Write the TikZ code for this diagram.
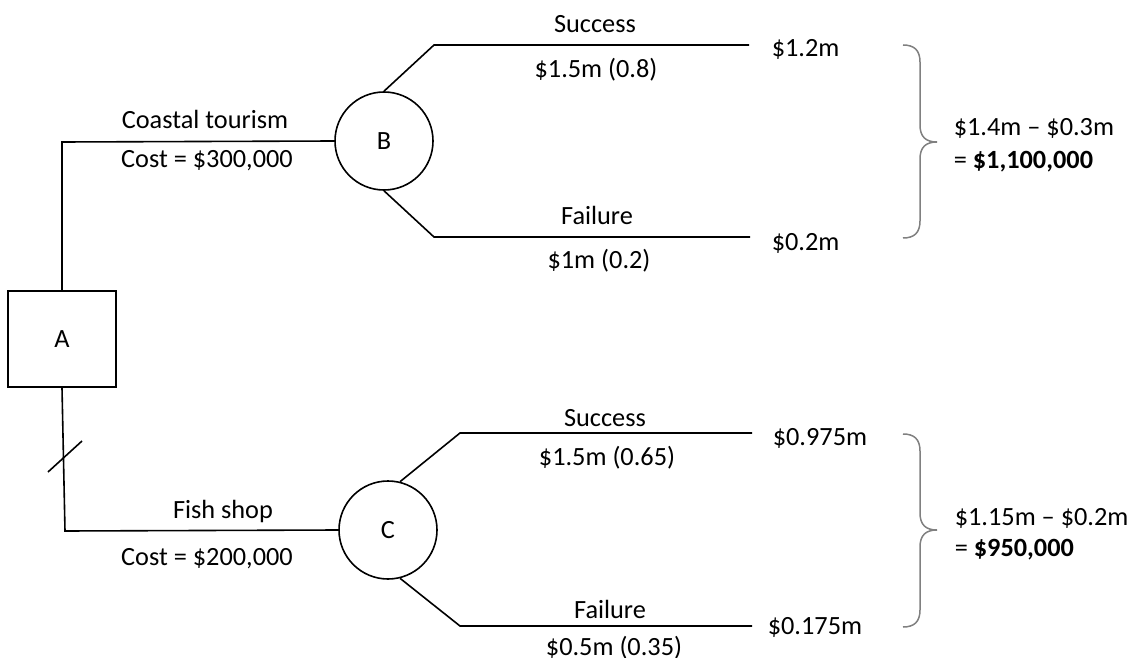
\documentclass[tikz,border=0pt]{standalone}
\usepackage{fontspec}
\setmainfont{Carlito}
\usepackage{tikz}

\begin{document}
\begin{tikzpicture}[
            x = 0.5pt, y = -0.5pt, % one unit = one pixel of the sketch
            line width = 0.8pt, % line style
            font = \fontsize{13.15}{16}\selectfont
        ]

        \tikzstyle{decision}=[
            draw = black,
            rectangle,
            minimum width = 54pt,
            minimum height = 48pt
        ]
        \tikzstyle{chance}=[
            draw = black,
            circle,
            minimum size = 49pt
        ]
        \tikzstyle{txt}=[inner sep = 0pt, anchor = base]
        \tikzstyle{payoff}=[inner sep = 0pt, anchor = base west]
        \tikzstyle{bracket}=[draw = gray, line width = 0.75pt]

        \useasboundingbox (0, 0) rectangle (1136, 658);

        \node[decision] (A) at (62, 339) {A};
        \node[chance] (B) at (384, 141) {B};
        \node[chance] (C) at (388, 530) {C};

        % corners and branch ends
        \coordinate (Atop) at (62, 142);
        \coordinate (Abot) at (65, 531);
        \coordinate (Bs) at (434, 45);
        \coordinate (Bse) at (749, 45);
        \coordinate (Bf) at (434, 237);
        \coordinate (Bfe) at (750, 237);
        \coordinate (Cs) at (460, 433);
        \coordinate (Cse) at (752, 433);
        \coordinate (Cf) at (460, 626);
        \coordinate (Cfe) at (752, 626);

        \draw (A.north) -- (Atop) -- (B.west);
        \draw (A.south) -- (Abot) -- (C.west);
        \draw (B.north) -- (Bs) -- (Bse);
        \draw (B.south) -- (Bf) -- (Bfe);
        \draw (C.76) -- (Cs) -- (Cse);
        \draw (C.-76) -- (Cf) -- (Cfe);

        % option not taken
        \draw (48, 472) -- (82, 441);

        \node[txt] (tour) at (205, 129) {Coastal tourism};
        \node[txt] (tourcost) at (207, 168) {Cost = \$300,000};
        \node[txt] (fish) at (223, 518) {Fish shop};
        \node[txt] (fishcost) at (207, 565) {Cost = \$200,000};

        \node[txt] (Bsl) at (595, 33) {Success};
        \node[txt] (Bsv) at (596, 78) {\$1.5m (0.8)};
        \node[txt] (Bfl) at (597, 225) {Failure};
        \node[txt] (Bfv) at (599, 268) {\$1m (0.2)};
        \node[txt] (Csl) at (605, 426) {Success};
        \node[txt] (Csv) at (607, 465) {\$1.5m (0.65)};
        \node[txt] (Cfl) at (610, 618) {Failure};
        \node[txt] (Cfv) at (614, 655) {\$0.5m (0.35)};

        \node[payoff] (Bsp) at (771, 57) {\$1.2m};
        \node[payoff] (Bfp) at (771, 250) {\$0.2m};
        \node[payoff] (Csp) at (772, 445) {\$0.975m};
        \node[payoff] (Cfp) at (767, 634) {\$0.175m};

        % curly brackets round the payoffs
        \foreach \t/\m/\b in {45/142/238, 434/530/627}
            \draw[bracket] (903, \t) .. controls (914, \t) and (920, \t+5) .. (920, \t+17)
                -- (920, \m-17) .. controls (920, \m-5) and (926, \m) .. (937, \m)
                .. controls (926, \m) and (920, \m+5) .. (920, \m+17)
                -- (920, \b-17) .. controls (920, \b-5) and (914, \b) .. (903, \b);

        \node[payoff] (Bsum) at (953, 136) {\$1.4m -- \$0.3m};
        \node[payoff] (Bemv) at (953, 169) {= \textbf{\$1,100,000}};
        \node[payoff] (Csum) at (954, 525) {\$1.15m -- \$0.2m};
        \node[payoff] (Cemv) at (954, 556) {= \textbf{\$950,000}};

        %\draw[red] (0, 0) grid (1136, 658);
    \end{tikzpicture}
\end{document}
